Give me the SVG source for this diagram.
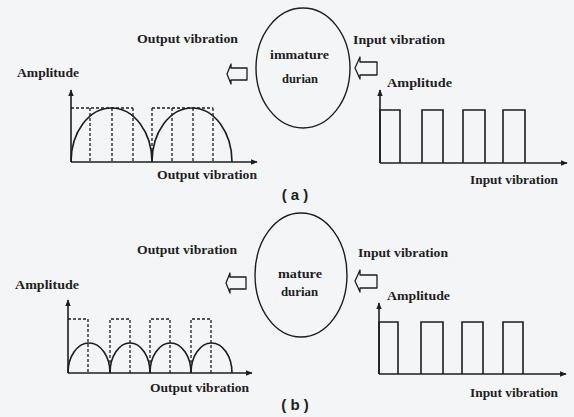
<svg xmlns="http://www.w3.org/2000/svg" width="574" height="417" viewBox="0 0 574 417">
<defs>
<marker id="ah" viewBox="0 0 10 10" refX="9" refY="5" markerWidth="7" markerHeight="7" markerUnits="userSpaceOnUse" orient="auto">
<path d="M0,1 L10,5 L0,9 Z" fill="#1e1e1e"/>
</marker>
<style>
.lbl{font-family:"Liberation Serif","Times New Roman",serif;font-size:12px;font-weight:bold;fill:#1e1e1e}
.cap{font-family:"Liberation Sans",Arial,sans-serif;font-size:15px;font-weight:bold;fill:#1e1e1e}
.axis{stroke:#1e1e1e;stroke-width:1.6;fill:none;marker-end:url(#ah)}
.sig{stroke:#1e1e1e;stroke-width:1.6;fill:none}
.dash{stroke:#1e1e1e;stroke-width:1.3;fill:none;stroke-dasharray:3 2}
.node{stroke:#1e1e1e;stroke-width:1.4;fill:none}
.hollow{stroke:#1e1e1e;stroke-width:1.3;fill:#f4f5f6;stroke-linejoin:round}
</style>
</defs>
<rect width="574" height="417" fill="#f4f5f6"/>

<!-- ===== (a) ===== -->
<g id="durian-a">
<ellipse class="node" cx="303" cy="68" rx="47" ry="60"/>
<text class="lbl" x="270" y="59" textLength="59" lengthAdjust="spacingAndGlyphs">immature</text>
<text class="lbl" x="282" y="83" textLength="36" lengthAdjust="spacingAndGlyphs">durian</text>
</g>
<g id="input-graph-a">
<text class="lbl" x="353" y="44" textLength="92" lengthAdjust="spacingAndGlyphs">Input vibration</text>
<text class="lbl" x="387" y="87" textLength="65" lengthAdjust="spacingAndGlyphs">Amplitude</text>
<path class="axis" d="M380,163 V90"/>
<path class="axis" d="M380,163 H567"/>
<path class="sig" d="M380,163 V110 H400 V163 M422,163 V110 H443 V163 M463,163 V110 H485 V163 M503,163 V110 H525 V163"/>
<text class="lbl" x="470" y="184" textLength="88" lengthAdjust="spacingAndGlyphs">Input vibration</text>
</g>
<g id="output-graph-a">
<text class="lbl" x="137" y="43" textLength="101" lengthAdjust="spacingAndGlyphs">Output vibration</text>
<text class="lbl" x="17" y="77" textLength="62" lengthAdjust="spacingAndGlyphs">Amplitude</text>
<path class="axis" d="M71,162 V90"/>
<path class="axis" d="M71,162 H257"/>
<path class="dash" d="M71,108 H133 M152,108 H213 M90,108 V162 M112,108 V162 M133,108 V162 M152,108 V162 M172,108 V162 M193,108 V162 M213,108 V162"/>
<path class="sig" d="M71,162 A40.5,54 0 0 1 152,162 A40,54 0 0 1 232,162"/>
<text class="lbl" x="157" y="179" textLength="100" lengthAdjust="spacingAndGlyphs">Output vibration</text>
</g>
<g id="connectors-a">
<polygon class="hollow" points="227,74 231,64 231,68 247,68 247,80 231,80 231,84"/>
<polygon class="hollow" points="355,68 360,57 360,62 377,62 377,75 360,75 360,79"/>
</g>
<text class="cap" x="295" y="200" text-anchor="middle">( a )</text>

<!-- ===== (b) ===== -->
<g id="durian-b">
<ellipse class="node" cx="301" cy="275" rx="46" ry="62"/>
<text class="lbl" x="278" y="278" textLength="44" lengthAdjust="spacingAndGlyphs">mature</text>
<text class="lbl" x="281" y="296" textLength="37" lengthAdjust="spacingAndGlyphs">durian</text>
</g>
<g id="input-graph-b">
<text class="lbl" x="358" y="257" textLength="90" lengthAdjust="spacingAndGlyphs">Input vibration</text>
<text class="lbl" x="387" y="300" textLength="63" lengthAdjust="spacingAndGlyphs">Amplitude</text>
<path class="axis" d="M379,374 V303"/>
<path class="axis" d="M379,374 H566"/>
<path class="sig" d="M379,374 V322 H398 V374 M421,374 V322 H443 V374 M462,374 V322 H483 V374 M503,374 V322 H523 V374"/>
<text class="lbl" x="470" y="397" textLength="88" lengthAdjust="spacingAndGlyphs">Input vibration</text>
</g>
<g id="output-graph-b">
<text class="lbl" x="137" y="254" textLength="100" lengthAdjust="spacingAndGlyphs">Output vibration</text>
<text class="lbl" x="15" y="289" textLength="64" lengthAdjust="spacingAndGlyphs">Amplitude</text>
<path class="axis" d="M68,373 V300"/>
<path class="axis" d="M68,373 H252"/>
<path class="dash" d="M68,319 H88 V373 M110,373 V319 H130 V373 M150,373 V319 H170 V373 M191,373 V319 H211 V373"/>
<path class="sig" d="M68,373 A21,30 0 0 1 110,373 A20,30 0 0 1 150,373 A20.5,30 0 0 1 191,373 A20.5,30 0 0 1 232,373"/>
<text class="lbl" x="150" y="392" textLength="99" lengthAdjust="spacingAndGlyphs">Output vibration</text>
</g>
<g id="connectors-b">
<polygon class="hollow" points="226,283 230,273 230,277 246,277 246,289 230,289 230,293"/>
<polygon class="hollow" points="355,281 360,270 360,275 377,275 377,288 360,288 360,292"/>
</g>
<text class="cap" x="295" y="410" text-anchor="middle">( b )</text>
</svg>
